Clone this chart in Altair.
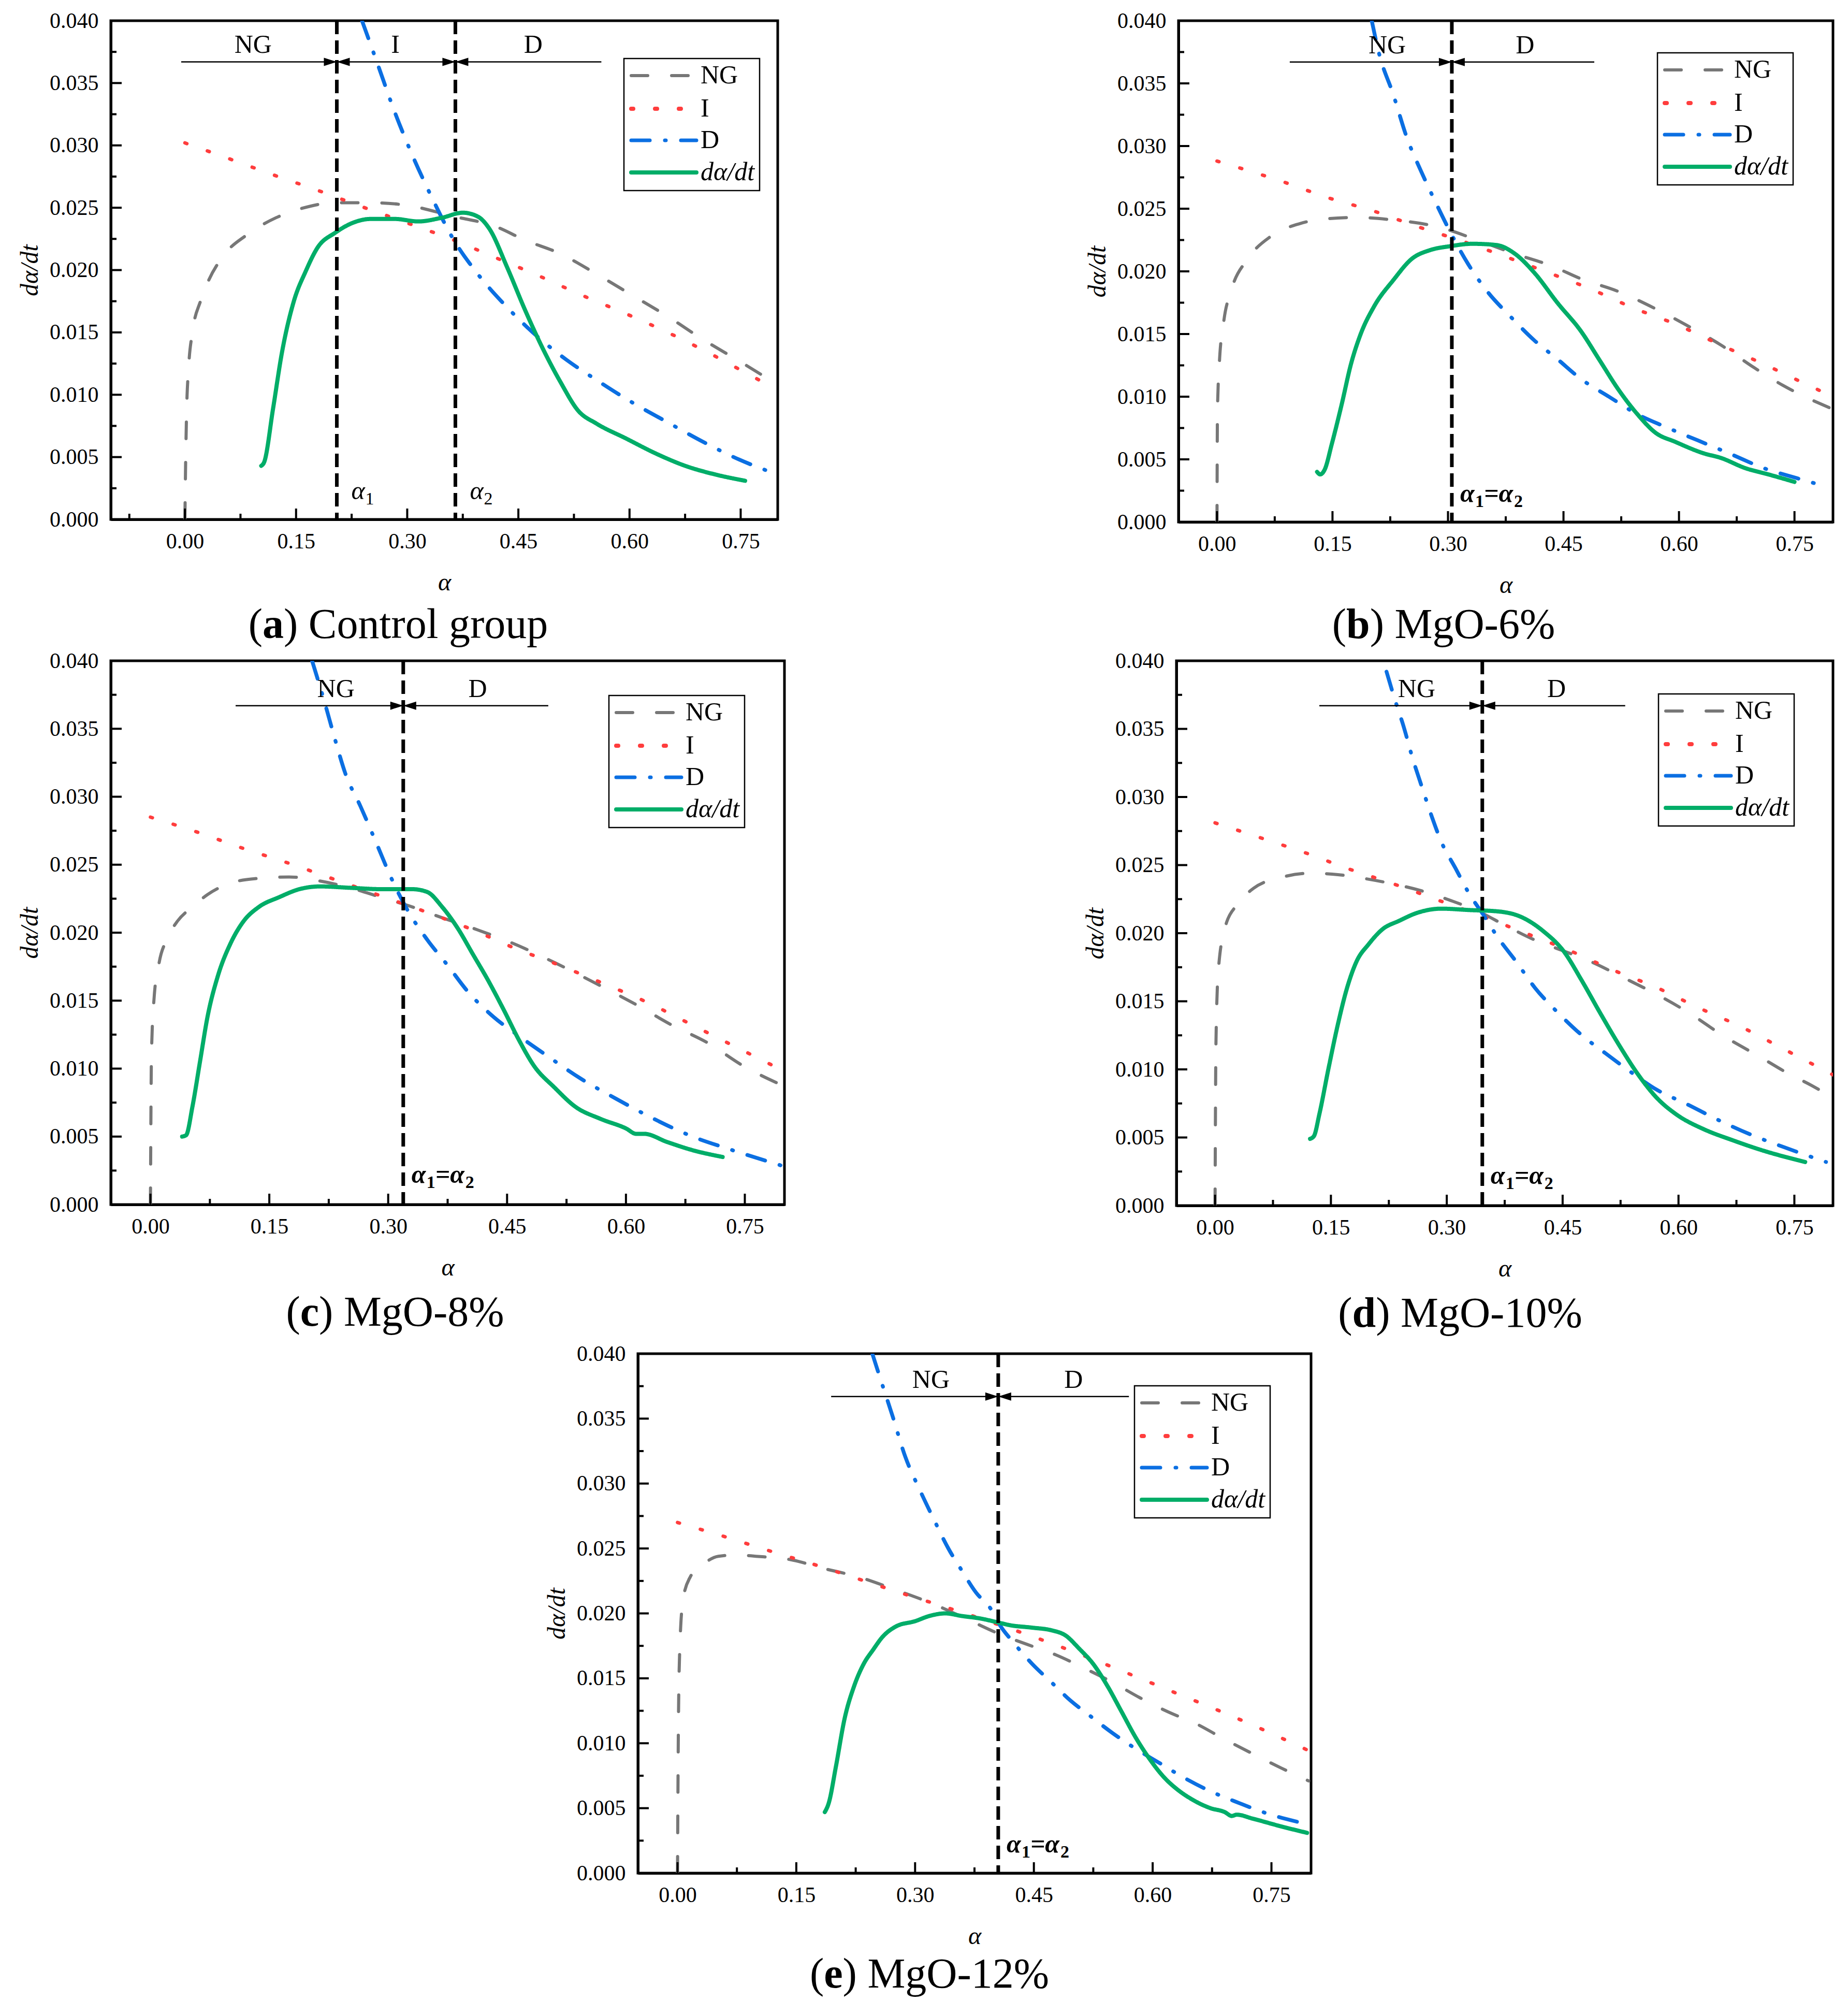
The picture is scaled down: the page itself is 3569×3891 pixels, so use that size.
import altair as alt
import pandas as pd

SERIF = "Liberation Serif"

# -----------------------------
# SERIES STYLE
# -----------------------------
NAMES = ["NG", "I", "D", "dα/dt"]
COLORS = ["#777777", "#ff3d3d", "#0b6fe2", "#00ad68"]
DASHES = [[32, 46], [4, 42], [36, 29, 2, 29], [1, 0]]
WIDTHS = [6, 8, 7, 8]

X_TICKS = [0.0, 0.15, 0.30, 0.45, 0.60, 0.75]
X_MINOR = [-0.075, 0.075, 0.225, 0.375, 0.525, 0.675]
Y_TICKS = [0.0, 0.005, 0.010, 0.015, 0.020, 0.025, 0.030, 0.035, 0.040]
Y_MINOR = [0.0025, 0.0075, 0.0125, 0.0175, 0.0225, 0.0275, 0.0325, 0.0375]
ARROW_Y = 0.0367
SUB_Y = 0.0016

# -----------------------------
# (a) CONTROL GROUP
# -----------------------------
A_NG_X = [0, 0.0008, 0.0024, 0.0048, 0.0104, 0.021, 0.030, 0.054, 0.083, 0.123, 0.155, 0.203,
          0.251, 0.299, 0.363, 0.419, 0.459, 0.507, 0.555, 0.603, 0.651, 0.700, 0.748, 0.80]
A_NG_Y = [0, 0.0038, 0.0089, 0.012, 0.0151, 0.0175, 0.0189, 0.0213, 0.0228, 0.0242, 0.0249, 0.0254,
          0.0254, 0.0252, 0.0243, 0.0235, 0.0224, 0.0213, 0.0197, 0.018, 0.0163, 0.0144, 0.0127, 0.0108]
A_I_X = [0, 0.061, 0.121, 0.179, 0.238, 0.299, 0.363, 0.419, 0.479, 0.535, 0.595, 0.655, 0.712, 0.768, 0.80]
A_I_Y = [0.0302, 0.0289, 0.0276, 0.0264, 0.0251, 0.0238, 0.0224, 0.021, 0.0195, 0.018, 0.0165, 0.0149,
         0.0132, 0.0114, 0.0104]
A_D_X = [0.239, 0.259, 0.283, 0.307, 0.331, 0.363, 0.395, 0.435, 0.475, 0.515, 0.555, 0.603, 0.651,
         0.70, 0.748, 0.80]
A_D_Y = [0.040, 0.0367, 0.0327, 0.0292, 0.0261, 0.0224, 0.0197, 0.0170, 0.0147, 0.0128, 0.0112, 0.0094,
         0.0078, 0.0062, 0.0048, 0.0036]
A_R_X = [0.103, 0.107, 0.119, 0.131, 0.147, 0.163, 0.179, 0.203, 0.227, 0.251, 0.283, 0.315, 0.347,
         0.375, 0.395, 0.411, 0.435, 0.459, 0.483, 0.507, 0.531, 0.555, 0.595, 0.635, 0.675, 0.716, 0.756]
A_R_Y = [0.0043, 0.0046, 0.0089, 0.0134, 0.0175, 0.0199, 0.0218, 0.0230, 0.0238, 0.0241, 0.0241, 0.0239,
         0.0242, 0.0246, 0.0243, 0.0233, 0.0202, 0.0168, 0.0137, 0.0110, 0.0087, 0.0077, 0.0065, 0.0053,
         0.0043, 0.0036, 0.0031]

# -----------------------------
# (b) MgO-6%
# -----------------------------
B_NG_X = [0, 0.0006, 0.003, 0.009, 0.018, 0.040, 0.070, 0.107, 0.143, 0.18, 0.229, 0.290, 0.338,
          0.387, 0.436, 0.473, 0.521, 0.570, 0.607, 0.655, 0.698, 0.735, 0.796]
B_NG_Y = [0, 0.0088, 0.0126, 0.0161, 0.0184, 0.021, 0.0228, 0.0238, 0.0242, 0.0243, 0.0241, 0.0235,
          0.0225, 0.0214, 0.0204, 0.0194, 0.0184, 0.017, 0.0158, 0.0141, 0.0123, 0.0109, 0.0091]
B_I_X = [0, 0.088, 0.143, 0.204, 0.259, 0.314, 0.369, 0.43, 0.485, 0.54, 0.595, 0.655, 0.71, 0.765, 0.80]
B_I_Y = [0.0288, 0.0271, 0.0259, 0.0248, 0.0236, 0.0225, 0.0213, 0.0199, 0.0186, 0.0171, 0.0158, 0.0141,
         0.0126, 0.011, 0.0100]
B_D_X = [0.201, 0.21, 0.229, 0.247, 0.265, 0.284, 0.305, 0.326, 0.351, 0.381, 0.412, 0.442, 0.473,
         0.509, 0.546, 0.582, 0.625, 0.668, 0.71, 0.753, 0.793]
B_D_Y = [0.040, 0.0375, 0.0341, 0.0306, 0.028, 0.0255, 0.0229, 0.0206, 0.0184, 0.0164, 0.0145, 0.013,
         0.0114, 0.010, 0.0086, 0.0076, 0.0065, 0.0054, 0.0043, 0.0035, 0.0028]
B_R_X = [0.13, 0.134, 0.14, 0.149, 0.162, 0.174, 0.186, 0.204, 0.229, 0.253, 0.277, 0.302, 0.332, 0.363,
         0.387, 0.412, 0.442, 0.473, 0.497, 0.521, 0.546, 0.57, 0.595, 0.631, 0.655, 0.686, 0.716, 0.75]
B_R_Y = [0.004, 0.0038, 0.0042, 0.0062, 0.0094, 0.0126, 0.0149, 0.0172, 0.0193, 0.021, 0.0217, 0.022,
         0.0222, 0.0221, 0.0214, 0.0199, 0.0175, 0.0152, 0.0129, 0.0106, 0.0086, 0.0071, 0.0064, 0.0055,
         0.0051, 0.0043, 0.0038, 0.0032]

# -----------------------------
# (c) MgO-8%
# -----------------------------
C_NG_X = [0, 0.0013, 0.0045, 0.011, 0.0206, 0.0335, 0.053, 0.072, 0.104, 0.137, 0.175, 0.214, 0.252,
          0.291, 0.33, 0.368, 0.413, 0.458, 0.51, 0.561, 0.613, 0.658, 0.703, 0.748, 0.80]
C_NG_Y = [0, 0.011, 0.0151, 0.0178, 0.0195, 0.0208, 0.0219, 0.0228, 0.0237, 0.024, 0.0241, 0.0238, 0.0233,
          0.0226, 0.0219, 0.0211, 0.0202, 0.0192, 0.0178, 0.0163, 0.0147, 0.0132, 0.0119, 0.0102, 0.0087]
C_I_X = [0, 0.059, 0.117, 0.175, 0.233, 0.291, 0.349, 0.407, 0.458, 0.516, 0.574, 0.626, 0.684, 0.735, 0.80]
C_I_Y = [0.0285, 0.0274, 0.0262, 0.0251, 0.0239, 0.0227, 0.0215, 0.0202, 0.0189, 0.0176, 0.0162, 0.0149,
         0.0132, 0.0117, 0.0098]
C_D_X = [0.204, 0.22, 0.233, 0.246, 0.265, 0.285, 0.304, 0.323, 0.349, 0.375, 0.4, 0.433, 0.465, 0.504,
         0.542, 0.587, 0.632, 0.684, 0.729, 0.80]
C_D_Y = [0.040, 0.0369, 0.0342, 0.0317, 0.0293, 0.0266, 0.0240, 0.0218, 0.0195, 0.0176, 0.0157, 0.0138,
         0.0124, 0.0108, 0.0093, 0.0078, 0.0064, 0.005, 0.0041, 0.0028]
C_R_X = [0.04, 0.045, 0.053, 0.0625, 0.072, 0.085, 0.101, 0.117, 0.137, 0.162, 0.188, 0.214, 0.252, 0.291,
         0.33, 0.349, 0.368, 0.388, 0.407, 0.426, 0.446, 0.465, 0.484, 0.51, 0.536, 0.568, 0.6, 0.613,
         0.623, 0.652, 0.684, 0.722]
C_R_Y = [0.005, 0.0051, 0.0072, 0.0105, 0.0138, 0.0168, 0.0192, 0.0208, 0.0219, 0.0226, 0.0232, 0.0234,
         0.0233, 0.0232, 0.0232, 0.023, 0.0219, 0.0203, 0.0184, 0.0165, 0.0143, 0.0121, 0.0102, 0.0086,
         0.0072, 0.0063, 0.0056, 0.0052, 0.0052, 0.0046, 0.004, 0.0035]

# -----------------------------
# (d) MgO-10%
# -----------------------------
D_NG_X = [0, 0.0012, 0.0043, 0.0134, 0.0286, 0.05, 0.086, 0.123, 0.159, 0.195, 0.232, 0.268, 0.305,
          0.341, 0.378, 0.414, 0.451, 0.487, 0.53, 0.572, 0.615, 0.657, 0.706, 0.742, 0.773, 0.80]
D_NG_Y = [0, 0.012, 0.0173, 0.0205, 0.0221, 0.0233, 0.0241, 0.0244, 0.0243, 0.024, 0.0236, 0.0231, 0.0224,
          0.0216, 0.0205, 0.0195, 0.0187, 0.0179, 0.0167, 0.0155, 0.0141, 0.0125, 0.0109, 0.0097, 0.0088,
          0.0079]
D_I_X = [0, 0.059, 0.117, 0.174, 0.232, 0.29, 0.348, 0.402, 0.46, 0.515, 0.572, 0.627, 0.682, 0.736, 0.80]
D_I_Y = [0.0281, 0.027, 0.0259, 0.0247, 0.0236, 0.0224, 0.0212, 0.02, 0.0187, 0.0173, 0.016, 0.0145,
         0.0131, 0.0115, 0.0096]
D_D_X = [0.222, 0.232, 0.244, 0.256, 0.268, 0.281, 0.293, 0.311, 0.329, 0.348, 0.366, 0.39, 0.414, 0.445,
         0.475, 0.505, 0.536, 0.572, 0.609, 0.651, 0.694, 0.736, 0.791]
D_D_Y = [0.0392, 0.0373, 0.0352, 0.0328, 0.0307, 0.0285, 0.0267, 0.0248, 0.0229, 0.0213, 0.0197, 0.0179,
         0.016, 0.0141, 0.0125, 0.0112, 0.0099, 0.0085, 0.0075, 0.0063, 0.0052, 0.0043, 0.0032]
D_R_X = [0.123, 0.128, 0.135, 0.147, 0.159, 0.171, 0.183, 0.199, 0.217, 0.238, 0.262, 0.293, 0.329, 0.366,
         0.396, 0.426, 0.451, 0.475, 0.499, 0.524, 0.548, 0.572, 0.597, 0.633, 0.67, 0.706, 0.764]
D_R_Y = [0.0049, 0.0051, 0.0067, 0.0101, 0.0133, 0.016, 0.0179, 0.0192, 0.0203, 0.0209, 0.0215, 0.0218,
         0.0217, 0.0216, 0.0212, 0.0201, 0.0187, 0.0165, 0.0141, 0.0117, 0.0096, 0.0079, 0.0067, 0.0056,
         0.0048, 0.0041, 0.0032]

# -----------------------------
# (e) MgO-12%
# -----------------------------
E_NG_X = [0, 0.0012, 0.003, 0.0071, 0.016, 0.0308, 0.0515, 0.075, 0.099, 0.146, 0.182, 0.229, 0.276,
          0.324, 0.371, 0.407, 0.442, 0.478, 0.513, 0.549, 0.584, 0.62, 0.655, 0.691, 0.726, 0.762, 0.797]
E_NG_Y = [0, 0.0119, 0.0175, 0.0211, 0.0228, 0.0237, 0.0244, 0.0245, 0.0244, 0.0241, 0.0235, 0.0228,
          0.0218, 0.0207, 0.0194, 0.0184, 0.0176, 0.0168, 0.0158, 0.0147, 0.0135, 0.0124, 0.0115, 0.0103,
          0.0092, 0.0081, 0.0071]
E_I_X = [0, 0.06, 0.117, 0.176, 0.236, 0.291, 0.348, 0.407, 0.463, 0.519, 0.576, 0.632, 0.688, 0.741, 0.798]
E_I_Y = [0.027, 0.0259, 0.0248, 0.0237, 0.0225, 0.0214, 0.0203, 0.0191, 0.0179, 0.0166, 0.0152, 0.0138,
         0.0124, 0.011, 0.0094]
E_D_X = [0.246, 0.256, 0.271, 0.288, 0.306, 0.324, 0.342, 0.359, 0.377, 0.395, 0.407, 0.425, 0.448, 0.472,
         0.496, 0.519, 0.549, 0.578, 0.608, 0.638, 0.673, 0.709, 0.744, 0.786]
E_D_Y = [0.040, 0.0381, 0.0353, 0.032, 0.0295, 0.0272, 0.025, 0.0233, 0.0216, 0.0204, 0.0191, 0.0177,
         0.0161, 0.0147, 0.0133, 0.0122, 0.0108, 0.0096, 0.0085, 0.0074, 0.0063, 0.0054, 0.0046, 0.0039]
E_R_X = [0.186, 0.191, 0.2, 0.211, 0.223, 0.235, 0.247, 0.259, 0.276, 0.3, 0.318, 0.338, 0.359, 0.383,
         0.405, 0.419, 0.448, 0.472, 0.49, 0.507, 0.525, 0.543, 0.561, 0.578, 0.596, 0.614, 0.632, 0.649,
         0.673, 0.691, 0.7, 0.706, 0.726, 0.762, 0.795]
E_R_Y = [0.0047, 0.0054, 0.0082, 0.0119, 0.0144, 0.0161, 0.0172, 0.0182, 0.019, 0.0194, 0.0198, 0.02,
         0.0198, 0.0196, 0.0193, 0.0191, 0.0189, 0.0187, 0.0183, 0.0173, 0.0161, 0.0144, 0.0124, 0.0105,
         0.0088, 0.0074, 0.0064, 0.0057, 0.005, 0.0047, 0.0044, 0.0045, 0.0042, 0.0036, 0.0031]

PANELS = [
    dict(lo=-0.1, w=1288, h=963, series=[(A_NG_X, A_NG_Y), (A_I_X, A_I_Y), (A_D_X, A_D_Y), (A_R_X, A_R_Y)],
         bounds=[0.205, 0.365], arrow=(-0.005, 0.562), labels=["NG", "I", "D"], label_x=[0.092, 0.284, 0.47],
         pair=True, lg_r=35, lg_t=73, letter="a", rest=") Control group", cap_x=555, cap_y=204),
    dict(lo=-0.05, w=1264, h=968, series=[(B_NG_X, B_NG_Y), (B_I_X, B_I_Y), (B_D_X, B_D_Y), (B_R_X, B_R_Y)],
         bounds=[0.305], arrow=(0.0945, 0.49), labels=["NG", "D"], label_x=[0.221, 0.40],
         pair=False, lg_r=77, lg_t=62, letter="b", rest=") MgO-6%", cap_x=512, cap_y=199),
    dict(lo=-0.05, w=1301, h=1050, series=[(C_NG_X, C_NG_Y), (C_I_X, C_I_Y), (C_D_X, C_D_Y), (C_R_X, C_R_Y)],
         bounds=[0.319], arrow=(0.1075, 0.502), labels=["NG", "D"], label_x=[0.234, 0.413],
         pair=False, lg_r=77, lg_t=67, letter="c", rest=") MgO-8%", cap_x=549, cap_y=209),
    dict(lo=-0.05, w=1268, h=1052, series=[(D_NG_X, D_NG_Y), (D_I_X, D_I_Y), (D_D_X, D_D_Y), (D_R_X, D_R_Y)],
         bounds=[0.346], arrow=(0.135, 0.531), labels=["NG", "D"], label_x=[0.261, 0.442],
         pair=False, lg_r=75, lg_t=64, letter="d", rest=") MgO-10%", cap_x=548, cap_y=209),
    dict(lo=-0.05, w=1300, h=1003, series=[(E_NG_X, E_NG_Y), (E_I_X, E_I_Y), (E_D_X, E_D_Y), (E_R_X, E_R_Y)],
         bounds=[0.405], arrow=(0.194, 0.57), labels=["NG", "D"], label_x=[0.32, 0.50],
         pair=False, lg_r=79, lg_t=62, letter="e", rest=") MgO-12%", cap_x=563, cap_y=196),
]

# -----------------------------
# HELPERS
# -----------------------------
CHAR_W = {"(": 0.333, ")": 0.333, " ": 0.25, "C": 0.667, "o": 0.5, "n": 0.5, "t": 0.278, "r": 0.333,
          "l": 0.278, "g": 0.5, "u": 0.5, "p": 0.5, "M": 0.889, "O": 0.722, "-": 0.333, "%": 0.833}
BOLD_W = {"a": 0.5, "b": 0.556, "c": 0.444, "d": 0.556, "e": 0.444}
CAP_FS = 82
LG_W, LG_H = 262, 255
LG_ROWS = [33, 97, 158, 220]


def text_w(s, size):
    return sum(CHAR_W.get(ch, 0.5) for ch in s) * size


def one():
    return pd.DataFrame({"k": [0]})


def long_table(series):
    rows = []
    for name, (xs, ys) in zip(NAMES, series):
        for x, y in zip(xs, ys):
            rows.append({"alpha": x, "rate": y, "series": name})
    return pd.DataFrame(rows)


def txt(text, x, y, **kw):
    base = dict(text=text, font=SERIF, color="black", align="left", baseline="middle")
    base.update(kw)
    return alt.Chart(one()).mark_text(**base).encode(x=alt.value(x), y=alt.value(y))


def panel(p):
    W, H = p["w"], p["h"]
    xs = alt.Scale(domain=[p["lo"], 0.8], nice=False, zero=False)
    ys = alt.Scale(domain=[0, 0.04], nice=False, zero=False)
    # same axis object in every layer so the shared axes merge cleanly
    ax_x = alt.Axis(values=X_TICKS, format=".2f", title="α", titleY=122, titleBaseline="middle")
    ax_y = alt.Axis(values=Y_TICKS, format=".3f", title="dα/dt", titleX=-156, titleY=H / 2,
                    titleAngle=270, titleAlign="center", titleBaseline="middle")

    def X(field):
        return alt.X(field, scale=xs, axis=ax_x)

    def Y(field):
        return alt.Y(field, scale=ys, axis=ax_y)

    lines = alt.Chart(long_table(p["series"])).mark_line(
        clip=True, interpolate="monotone", strokeCap="round"
    ).encode(
        x=X("alpha:Q"),
        y=Y("rate:Q"),
        color=alt.Color("series:N", scale=alt.Scale(domain=NAMES, range=COLORS), legend=None),
        strokeDash=alt.StrokeDash("series:N", scale=alt.Scale(domain=NAMES, range=DASHES), legend=None),
        strokeWidth=alt.StrokeWidth("series:O", scale=alt.Scale(domain=NAMES, range=WIDTHS), legend=None),
    )

    # inward ticks
    minor_x = [v for v in X_MINOR if v > p["lo"]]
    ticks = []
    for vals, ln in [(X_TICKS, 21), (minor_x, 11)]:
        ticks.append(alt.Chart(pd.DataFrame({"alpha": vals})).mark_rule(color="black", strokeWidth=4).encode(
            x=X("alpha:Q"), y=alt.value(H), y2=alt.value(H - ln)))
    for vals, ln in [(Y_TICKS, 21), (Y_MINOR, 11)]:
        ticks.append(alt.Chart(pd.DataFrame({"rate": vals})).mark_rule(color="black", strokeWidth=4).encode(
            y=Y("rate:Q"), x=alt.value(0), x2=alt.value(ln)))

    # stage boundaries and arrows
    bdf = pd.DataFrame({"alpha": p["bounds"], "rate": [ARROW_Y] * len(p["bounds"])})
    vlines = alt.Chart(bdf).mark_rule(color="black", strokeWidth=7, strokeDash=[26, 12]).encode(
        x=X("alpha:Q"), y=alt.value(0), y2=alt.value(H))
    adf = pd.DataFrame({"alpha": [p["arrow"][0]], "a2": [p["arrow"][1]], "rate": [ARROW_Y]})
    arrow = alt.Chart(adf).mark_rule(color="black", strokeWidth=2.5).encode(
        x=X("alpha:Q"), x2="a2:Q", y=Y("rate:Q"))
    heads = []
    for shape in ["M0,0L-1,-0.32L-1,0.32Z", "M0,0L1,-0.32L1,0.32Z"]:
        heads.append(alt.Chart(bdf).mark_point(shape=shape, size=2500, filled=True, color="black",
                                               opacity=1).encode(x=X("alpha:Q"), y=Y("rate:Q")))
    ldf = pd.DataFrame({"alpha": p["label_x"], "rate": [ARROW_Y] * len(p["labels"]), "t": p["labels"]})
    rlab = alt.Chart(ldf).mark_text(font=SERIF, fontSize=50, baseline="bottom", dy=-7, color="black").encode(
        x=X("alpha:Q"), y=Y("rate:Q"), text="t:N")

    # alpha labels at the boundaries
    alabs = []
    for i, b in enumerate(p["bounds"]):
        d = pd.DataFrame({"alpha": [b], "rate": [SUB_Y]})
        if p["pair"]:
            parts = [("α", 28, 0, 50, "italic", "normal"), (str(i + 1), 55, 10, 34, "normal", "normal")]
        else:
            parts = [("α", 16, 0, 50, "italic", "bold"), ("1", 45, 10, 34, "normal", "bold"),
                     ("=α", 62, 0, 50, "italic", "bold"), ("2", 120, 10, 34, "normal", "bold")]
        for t, dx, dy, fs, st, wt in parts:
            alabs.append(alt.Chart(d).mark_text(text=t, font=SERIF, fontSize=fs, fontStyle=st, fontWeight=wt,
                                                align="left", baseline="alphabetic", dx=dx, dy=dy,
                                                color="black").encode(x=X("alpha:Q"), y=Y("rate:Q")))

    # legend box
    bx = W - p["lg_r"] - LG_W
    by = p["lg_t"]
    legend = [alt.Chart(one()).mark_rect(fill="white", stroke="black", strokeWidth=2.5).encode(
        x=alt.value(bx), x2=alt.value(bx + LG_W), y=alt.value(by), y2=alt.value(by + LG_H))]
    for name, col, dash, sw, ry in zip(NAMES, COLORS, DASHES, WIDTHS, LG_ROWS):
        legend.append(alt.Chart(one()).mark_rule(color=col, strokeDash=dash, strokeWidth=sw,
                                                 strokeCap="round").encode(
            x=alt.value(bx + 14), x2=alt.value(bx + 140), y=alt.value(by + ry)))
        legend.append(txt(name, bx + 148, by + ry, fontSize=50,
                          fontStyle="italic" if name.startswith("d") else "normal"))

    # caption under the panel
    lw = BOLD_W[p["letter"]] * CAP_FS
    total = text_w("(", CAP_FS) + lw + text_w(p["rest"], CAP_FS)
    xl = p["cap_x"] - total / 2 + text_w("(", CAP_FS)
    cy = H + p["cap_y"]
    caption = [txt("(", xl, cy, fontSize=CAP_FS, align="right"),
               txt(p["letter"], xl, cy, fontSize=CAP_FS, fontWeight="bold"),
               txt(p["rest"], xl + lw, cy, fontSize=CAP_FS)]

    return alt.layer(lines, *ticks, vlines, arrow, *heads, rlab, *alabs, *legend, *caption).properties(
        width=W, height=H)


charts = [panel(p) for p in PANELS]

spacer = alt.Chart(one()).mark_point(opacity=0).encode(
    x=alt.X("k:Q", axis=None), y=alt.Y("k:Q", axis=None)
).properties(width=10, height=10, view=alt.ViewBackground(stroke="transparent"))

# flush bounds: nested rows count as zero height, so spacing is the row-to-row offset
row1 = alt.hconcat(charts[0], charts[1], spacing=774, bounds="flush")
row2 = alt.hconcat(charts[2], charts[3], spacing=757, bounds="flush")
row3 = alt.hconcat(spacer, charts[4], spacing=1008, bounds="flush")
lower = alt.vconcat(row2, row3, spacing=1338, bounds="flush")

chart = alt.vconcat(row1, lower, spacing=1236, bounds="flush").properties(
    padding={"left": 23, "top": 8, "right": 5, "bottom": 5}
).configure_view(
    stroke="black", strokeWidth=5
).configure_axis(
    labelFont=SERIF, labelFontSize=42, labelColor="black",
    titleFont=SERIF, titleFontSize=48, titleFontStyle="italic", titleFontWeight="normal", titleColor="black",
    domainColor="black", domainWidth=5, ticks=False, tickSize=0, grid=False, labelOverlap=False
).configure_axisX(labelPadding=22).configure_axisY(labelPadding=24)

chart.save("out.html", embed_options={"renderer": "svg", "actions": False})
